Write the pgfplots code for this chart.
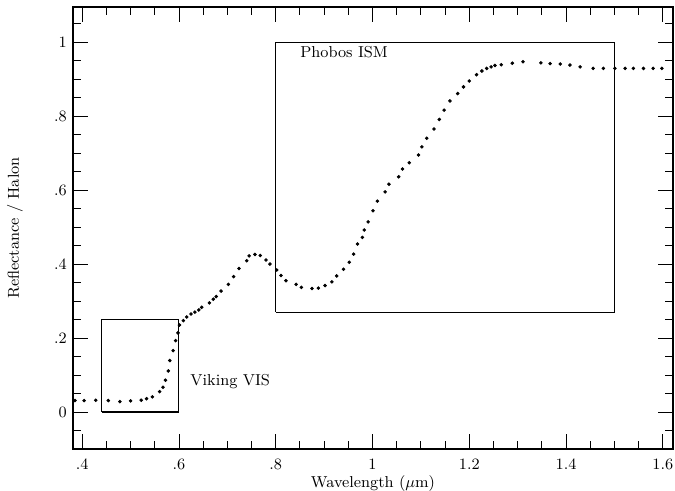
\documentclass[border=0pt]{standalone}
\usepackage{pgfplots}
\pgfplotsset{compat=1.18}
\begin{document}
\begin{tikzpicture}
\path[use as bounding box] (-1.46,-0.84) rectangle (12.04,8.98);
\begin{axis}[
  scale only axis, width=12cm, height=8.84cm,
  at={(0,0)}, anchor=south west,
  xmin=0.381, xmax=1.621, ymin=-0.1, ymax=1.095,
  xtick={0.4,0.6,0.8,1,1.2,1.4,1.6},
  xticklabels={.4,.6,.8,1,1.2,1.4,1.6},
  ytick={0,0.2,0.4,0.6,0.8,1},
  yticklabels={0,.2,.4,.6,.8,1},
  minor xtick={0.45,0.5,0.55,0.65,0.7,0.75,0.85,0.9,0.95,1.05,1.1,1.15,1.25,1.3,1.35,1.45,1.5,1.55},
  minor ytick={-0.05,0.05,0.1,0.15,0.25,0.3,0.35,0.45,0.5,0.55,0.65,0.7,0.75,0.85,0.9,0.95,1.05},
  major tick length=0.3cm, minor tick length=0.16cm,
  tick align=inside,
  tick style={black, line width=0.5pt},
  axis line style={line width=0.6pt},
  tick label style={font=\small},
  xticklabel style={yshift=-0.08cm},
  xlabel={Wavelength ($\mu$m)},
  ylabel={Reflectance / Halon},
  label style={font=\small},
  xlabel style={at={(axis description cs:0.5,-0.079)}, anchor=center},
  ylabel style={at={(axis description cs:-0.097,0.5)}, anchor=center},
  clip=false,
]
\addplot[black, line width=0.6pt] coordinates {(0.44,0) (0.6,0) (0.6,0.25) (0.44,0.25) (0.44,0)};
\addplot[black, line width=0.6pt] coordinates {(0.8,0.27) (1.5,0.27) (1.5,1.0) (0.8,1.0) (0.8,0.27)};
\addplot[only marks, mark=*, mark size=0.8pt, black] table {
x y
0.385 0.031
0.404 0.031
0.428 0.032
0.454 0.031
0.478 0.028
0.500 0.030
0.522 0.032
0.533 0.036
0.545 0.041
0.560 0.055
0.567 0.067
0.572 0.086
0.578 0.111
0.581 0.139
0.588 0.166
0.593 0.193
0.598 0.214
0.601 0.235
0.609 0.247
0.616 0.257
0.625 0.265
0.633 0.270
0.641 0.276
0.647 0.283
0.663 0.295
0.671 0.305
0.677 0.312
0.687 0.327
0.702 0.345
0.713 0.366
0.724 0.388
0.740 0.409
0.745 0.422
0.757 0.426
0.768 0.423
0.780 0.411
0.788 0.400
0.802 0.384
0.811 0.369
0.821 0.355
0.842 0.345
0.853 0.337
0.875 0.334
0.888 0.335
0.902 0.342
0.916 0.352
0.926 0.368
0.940 0.386
0.952 0.405
0.961 0.427
0.969 0.454
0.979 0.472
0.983 0.492
0.991 0.514
1.001 0.544
1.010 0.570
1.026 0.595
1.034 0.616
1.054 0.636
1.062 0.657
1.076 0.674
1.095 0.695
1.102 0.717
1.112 0.740
1.127 0.765
1.138 0.791
1.148 0.816
1.160 0.841
1.176 0.861
1.188 0.879
1.200 0.895
1.215 0.912
1.226 0.922
1.236 0.929
1.245 0.933
1.253 0.937
1.266 0.939
1.289 0.943
1.311 0.947
1.348 0.944
1.367 0.942
1.388 0.941
1.408 0.938
1.429 0.933
1.456 0.929
1.477 0.929
1.501 0.929
1.522 0.929
1.539 0.929
1.560 0.929
1.580 0.929
1.598 0.929
};
\node[font=\small, anchor=west] at (axis cs:0.838,0.973) {Phobos ISM};
\node[font=\small, anchor=west] at (axis cs:0.611,0.081) {Viking VIS};
\end{axis}
\end{tikzpicture}
\end{document}
